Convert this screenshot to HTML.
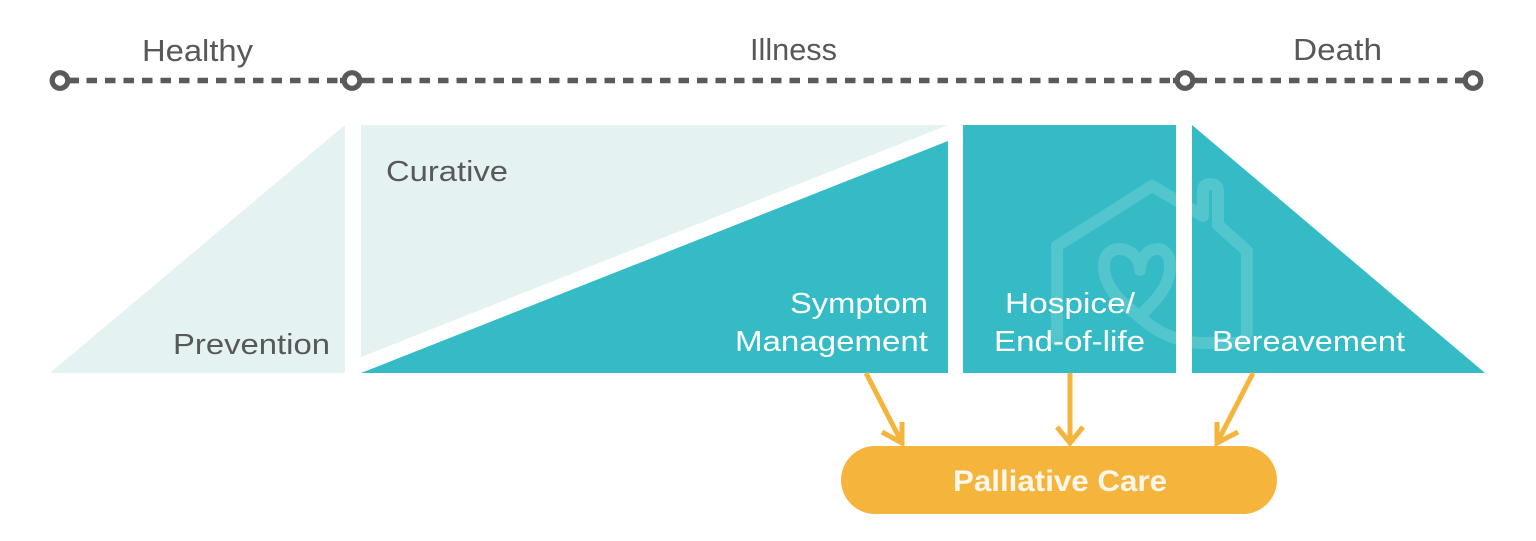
<!DOCTYPE html>
<html>
<head>
<meta charset="utf-8">
<style>
  html,body{margin:0;padding:0;background:#ffffff;}
  body{width:1536px;height:541px;overflow:hidden;}
  svg{display:block;}
  text{font-family:"Liberation Sans", sans-serif;}
</style>
</head>
<body>
<svg width="1536" height="541" viewBox="0 0 1536 541" xmlns="http://www.w3.org/2000/svg">
  <defs>
    <clipPath id="tealclip">
      <rect x="963" y="125" width="213" height="248"/>
      <polygon points="1192,125 1192,373 1485,373"/>
    </clipPath>
  </defs>

  <!-- Timeline -->
  <line x1="68" y1="80.5" x2="1466" y2="80.5" stroke="#5a5a5a" stroke-width="5.5" stroke-dasharray="10.5 8"/>
  <line x1="66" y1="80.5" x2="79" y2="80.5" stroke="#5a5a5a" stroke-width="5.5"/>
  <line x1="340" y1="80.5" x2="364" y2="80.5" stroke="#5a5a5a" stroke-width="5.5"/>
  <line x1="1173" y1="80.5" x2="1197" y2="80.5" stroke="#5a5a5a" stroke-width="5.5"/>
  <line x1="1455" y1="80.5" x2="1466" y2="80.5" stroke="#5a5a5a" stroke-width="5.5"/>
  <circle cx="60" cy="80.5" r="7.8" fill="#ffffff" stroke="#5a5a5a" stroke-width="5.2"/>
  <circle cx="352" cy="80.5" r="7.8" fill="#ffffff" stroke="#5a5a5a" stroke-width="5.2"/>
  <circle cx="1185" cy="80.5" r="7.8" fill="#ffffff" stroke="#5a5a5a" stroke-width="5.2"/>
  <circle cx="1473" cy="80.5" r="7.8" fill="#ffffff" stroke="#5a5a5a" stroke-width="5.2"/>

  <text x="142" y="61" font-size="31" fill="#58585a" textLength="111" lengthAdjust="spacingAndGlyphs">Healthy</text>
  <text x="750" y="60" font-size="31" fill="#58585a" textLength="87" lengthAdjust="spacingAndGlyphs">Illness</text>
  <text x="1293" y="60" font-size="31" fill="#58585a" textLength="89" lengthAdjust="spacingAndGlyphs">Death</text>

  <!-- Prevention -->
  <polygon points="50,373 345,125 345,373" fill="#e4f2f1"/>
  <!-- Curative -->
  <polygon points="361,125 948,125 361,357" fill="#e4f2f1"/>
  <!-- Symptom management -->
  <polygon points="361,373 948,141 948,373" fill="#34bbc6"/>
  <!-- Hospice -->
  <rect x="963" y="125" width="213" height="248" fill="#34bbc6"/>
  <!-- Bereavement -->
  <polygon points="1192,125 1192,373 1485,373" fill="#34bbc6"/>

  <!-- House watermark -->
  <g clip-path="url(#tealclip)" fill="none" stroke="#52c5cd" stroke-width="12" stroke-linejoin="round" stroke-linecap="round">
    <path d="M1057 340 L1057 246 L1152 186 L1203 216 L1203 191 Q1203 184 1210 184 Q1218 184 1218 191 L1218 225 L1247 251 L1247 331 Q1247 343 1235 343 L1200 343 C1180 342 1160 334 1146 322 C1125 305 1104 290 1104 266 C1104 240 1140 246 1140 270 C1140 246 1170 240 1170 266 C1170 290 1150 305 1140 316"/>
  </g>

  <!-- Labels in shapes -->
  <text x="173" y="354" font-size="29" fill="#58585a" textLength="157" lengthAdjust="spacingAndGlyphs">Prevention</text>
  <text x="386" y="181" font-size="29" fill="#58585a" textLength="122" lengthAdjust="spacingAndGlyphs">Curative</text>
  <text x="790" y="313" font-size="29" fill="#ffffff" textLength="138" lengthAdjust="spacingAndGlyphs">Symptom</text>
  <text x="735" y="351" font-size="29" fill="#ffffff" textLength="193" lengthAdjust="spacingAndGlyphs">Management</text>
  <text x="1005" y="313" font-size="29" fill="#ffffff" textLength="130" lengthAdjust="spacingAndGlyphs">Hospice/</text>
  <text x="994" y="351" font-size="29" fill="#ffffff" textLength="151" lengthAdjust="spacingAndGlyphs">End-of-life</text>
  <text x="1212" y="351" font-size="29" fill="#ffffff" textLength="193" lengthAdjust="spacingAndGlyphs">Bereavement</text>

  <!-- Arrows -->
  <g fill="none" stroke="#f5b43c" stroke-width="5" stroke-linejoin="miter">
    <line x1="866" y1="373" x2="901" y2="441"/>
    <polyline points="882,432 902,443 902,422"/>
    <line x1="1070" y1="373" x2="1070" y2="441"/>
    <polyline points="1057,427 1070,443 1083,427"/>
    <line x1="1253" y1="373" x2="1218" y2="441"/>
    <polyline points="1217,422 1217,443 1238,432"/>
  </g>

  <!-- Palliative Care pill -->
  <rect x="841" y="446" width="436" height="68" rx="34" ry="34" fill="#f5b43c"/>
  <text x="953" y="491" font-size="30" font-weight="bold" fill="#fdf7ea" textLength="214" lengthAdjust="spacingAndGlyphs">Palliative Care</text>
</svg>
</body>
</html>
